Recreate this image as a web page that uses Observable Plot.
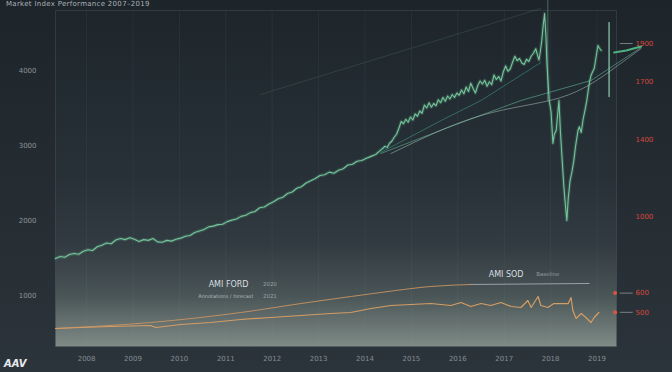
<!DOCTYPE html>
<html><head><meta charset="utf-8">
<script src="https://cdn.jsdelivr.net/npm/d3@7"></script>
<script src="https://cdn.jsdelivr.net/npm/@observablehq/plot@0.6"></script>
<style>
html,body{margin:0;padding:0;}
body{width:672px;height:372px;overflow:hidden;background:linear-gradient(#1d242a,#2c343b);font-family:"DejaVu Sans",sans-serif;}
#wrap{position:relative;width:672px;height:372px;}
#wrap svg{position:absolute;left:0;top:0;}
#title{position:absolute;left:6px;top:0px;font-size:7px;line-height:8px;color:#a9b2b6;letter-spacing:0.3px;white-space:nowrap;}
#brand{position:absolute;left:4px;top:358px;font-size:10px;line-height:12px;font-weight:bold;color:#e8ecee;font-style:italic;}
</style></head>
<body><div id="wrap"><div id="title">Market Index Performance 2007–2019</div><div id="brand">AAV</div></div>
<script>
// ---- data ----
const xTicks = [2008,2009,2010,2011,2012,2013,2014,2015,2016,2017,2018,2019];
const yTicksLeft = [1000,2000,3000,4000];
const yTicksRight = [1900,1700,1400,1000,600,500];

const greenYear = [2007.33,2007.43,2007.53,2007.63,2007.73,2007.83,2007.93,2008.03,2008.13,2008.23,2008.33,2008.43,2008.53,2008.63,2008.73,2008.83,2008.93,2009.03,2009.13,2009.23,2009.33,2009.43,2009.53,2009.63,2009.73,2009.83,2009.93,2010.03,2010.13,2010.23,2010.33,2010.43,2010.53,2010.63,2010.73,2010.83,2010.93,2011.03,2011.13,2011.23,2011.33,2011.43,2011.53,2011.63,2011.73,2011.83,2011.93,2012.03,2012.13,2012.23,2012.33,2012.43,2012.53,2012.63,2012.73,2012.83,2012.93,2013.03,2013.13,2013.23,2013.33,2013.43,2013.53,2013.63,2013.73,2013.83,2013.93,2014.03,2014.13,2014.23,2014.33,
2014.38,2014.43,2014.48,2014.53,2014.58,2014.63,2014.68,2014.73,2014.78,2014.83,2014.88,2014.93,2014.98,2015.03,2015.08,2015.13,2015.18,2015.23,2015.28,2015.33,2015.38,2015.43,2015.48,2015.53,2015.58,2015.63,2015.68,2015.73,2015.78,2015.83,2015.88,2015.93,2015.98,2016.03,2016.08,2016.13,2016.18,2016.23,2016.28,2016.33,2016.38,2016.43,2016.48,2016.53,2016.58,2016.63,2016.68,2016.73,2016.78,2016.83,2016.88,2016.93,2016.98,2017.03,2017.08,2017.13,2017.18,2017.23,2017.28,2017.33,2017.38,2017.43,2017.48,2017.53,2017.58,2017.63,2017.68,2017.72,2017.75,2017.78,2017.81,2017.84,2017.87,
2017.90,2017.92,2017.97,2018.01,2018.05,2018.08,2018.12,2018.15,2018.18,2018.21,2018.25,2018.28,2018.31,2018.35,2018.38,2018.42,2018.46,2018.50,2018.54,2018.59,2018.62,2018.66,2018.70,2018.74,2018.78,2018.81,2018.84,2018.87,2018.91,2018.94,2018.98,2019.02,2019.05,2019.09];
const greenValue = [1493,1520,1510,1547,1560,1550,1590,1610,1600,1650,1670,1700,1690,1740,1760,1745,1770,1750,1720,1745,1735,1760,1715,1710,1735,1725,1750,1765,1790,1800,1840,1860,1880,1915,1925,1945,1950,1985,2005,2020,2055,2070,2105,2120,2170,2180,2220,2250,2290,2310,2360,2380,2430,2450,2500,2530,2560,2600,2610,2645,2630,2670,2690,2740,2750,2790,2800,2830,2855,2880,2935,
2960,2990,2975,3030,3060,3110,3150,3230,3320,3290,3350,3310,3380,3340,3420,3390,3460,3430,3540,3500,3570,3510,3560,3530,3610,3570,3640,3590,3660,3620,3680,3640,3700,3670,3740,3690,3780,3720,3830,3760,3700,3800,3860,3820,3870,3790,3850,3810,3940,3880,3920,3860,3980,4060,3990,4020,4110,4190,4130,4160,4100,4080,4150,4120,4190,4230,4290,4200,4140,4260,4400,4600,4760,
4450,4100,3600,3450,3027,3150,3200,3400,3600,3200,2800,2500,2267,2000,2300,2533,2650,2800,3000,3200,3250,3173,3350,3467,3600,3733,3850,3933,3990,4027,4180,4333,4300,4267];

const spikeA = {year:[2019.26,2019.26], value:[4640,3653]};
const spikeB = {year:[2017.94,2017.94], value:[4933,3600]};
const tailYear = [2019.37,2019.63,2019.95];
const tailValue = [4240,4267,4320];

const trend1Year = [2014.34,2015.64,2016.50,2017.79];
const trend1Value = [2907,3333,3600,4107];
const trend2Year = [2014.34,2015.79,2017.36,2018.87,2019.95];
const trend2Value = [2893,3240,3600,3867,4307];
const trend3Year = [2014.56,2016.50,2018.22,2019.30,2019.95];
const trend3Value = [2893,3400,3640,4000,4293];
const trend4Year = [2011.75,2017.79];
const trend4Value = [3680,4827];

const orangeYear = [2007.33,2007.87,2008.52,2009.38,2009.49,2010.03,2010.67,2011.32,2011.97,2012.62,2013.26,2013.69,2014.13,2014.56,2014.99,2015.42,2015.85,2016.07,2016.28,2016.50,2016.71,2016.93,2017.15,2017.36,2017.51,2017.58,2017.73,2017.79,2017.94,2018.07,2018.22,2018.38,2018.44,2018.48,2018.55,2018.66,2018.76,2018.87,2018.94,2019.04];
const orangeValue = [560,573,587,600,573,613,640,680,707,733,760,773,827,867,880,893,867,907,853,893,867,907,853,840,933,840,987,867,840,893,893,893,973,800,693,760,707,640,707,773];

const smoothYear = [2007.33,2009.38,2011.32,2012.62,2014.34,2015.42,2016.28];
const smoothValue = [560,640,773,893,1040,1120,1147];
const baseYear = [2016.28,2018.83];
const baseValue = [1147,1160];

const notes = [
  {year:2011.06, value:1147, text:"AMI FORD", size:8, color:"#d9dfe0", weight:"normal"},
  {year:2011.95, value:1147, text:"2020", size:5.5, color:"#98a3a6", weight:"normal"},
  {year:2011.00, value:987, text:"Annotations / forecast", size:5, color:"#b3bbbd", weight:"normal"},
  {year:2011.95, value:987, text:"2021", size:5.5, color:"#98a3a6", weight:"normal"},
  {year:2017.04, value:1280, text:"AMI SOD", size:8, color:"#d9dfe0", weight:"normal"},
  {year:2017.94, value:1280, text:"Baseline", size:5.5, color:"#8f9a9e", weight:"normal"}
];

const endDots = [600,500];

// ---- build ----
const toRows = (xs, ys) => xs.map((x,i)=>({year:x, value:ys[i]}));
const green = toRows(greenYear, greenValue);
const W=672, H=372, ML=55, MR=56, MT=10, MB=26;
const xDomain=[2007.33,2019.42];

const main = Plot.plot({
  width:W, height:H, marginLeft:ML, marginRight:MR, marginTop:MT, marginBottom:MB,
  style:{background:"transparent", color:"#8e989d", fontSize:"7px", fontFamily:"DejaVu Sans, sans-serif"},
  x:{domain:xDomain},
  y:{domain:[320,4800]},
  marks:[
    Plot.frame({fill:"url(#plotbg)", stroke:"#56616a", strokeOpacity:0.35}),
    Plot.gridX(xTicks, {stroke:"#9fb5b2", strokeOpacity:0.07}),
    Plot.axisX(xTicks, {tickSize:0, tickPadding:10, tickFormat:d=>String(d), fill:"#828d93", label:null}),
    Plot.axisY(yTicksLeft, {tickSize:0, tickPadding:19, tickFormat:d=>String(d), fill:"#8a949a", label:null}),
    Plot.line(toRows(trend4Year,trend4Value), {x:"year", y:"value", stroke:"#6f9e8c", strokeOpacity:0.25, strokeWidth:0.8}),
    Plot.line(toRows(trend1Year,trend1Value), {x:"year", y:"value", stroke:"#3f9c8c", strokeOpacity:0.7, strokeWidth:0.8}),
    Plot.line(toRows(trend2Year,trend2Value), {x:"year", y:"value", stroke:"#5fae90", strokeOpacity:0.7, strokeWidth:0.9}),
    Plot.line(toRows(trend3Year,trend3Value), {x:"year", y:"value", stroke:"#b8cfc6", strokeOpacity:0.55, strokeWidth:0.9, curve:"natural"}),
    Plot.line(toRows(smoothYear,smoothValue), {x:"year", y:"value", stroke:"#c99462", strokeWidth:0.9, curve:"natural"}),
    Plot.line(toRows(baseYear,baseValue), {x:"year", y:"value", stroke:"#a3acae", strokeWidth:0.9}),
    Plot.line(toRows(orangeYear,orangeValue), {x:"year", y:"value", stroke:"#d49d64", strokeWidth:1.2}),
    Plot.line(green, {x:"year", y:"value", stroke:"#6fc197", strokeOpacity:0.2, strokeWidth:3.5}),
    Plot.line(green, {x:"year", y:"value", stroke:"#74c59b", strokeWidth:1.1}),
    Plot.line(toRows(spikeA.year,spikeA.value), {x:"year", y:"value", stroke:"#8fcfae", strokeWidth:1.2}),
    Plot.line(toRows(spikeB.year,spikeB.value), {x:"year", y:"value", stroke:"#8fcfae", strokeOpacity:0.5, strokeWidth:0.8}),
    Plot.line(toRows(tailYear,tailValue), {x:"year", y:"value", stroke:"#4fb07f", strokeWidth:2}),
    Plot.text(notes, {x:"year", y:"value", text:"text", fontSize:d=>d.size, fill:d=>d.color, fontWeight:d=>d.weight})
  ]
});
const defs = d3.select(main).insert("defs", ":first-child");
const g = defs.append("linearGradient").attr("id","plotbg").attr("x1",0).attr("y1",0).attr("x2",0).attr("y2",1);
[[0,"#1e262c"],[0.5,"#273137"],[0.7,"#313b41"],[0.85,"#4a5557"],[1,"#7f8b86"]].forEach(([o,c])=>g.append("stop").attr("offset",o).attr("stop-color",c));

const right = Plot.plot({
  width:W, height:H, marginLeft:ML, marginRight:MR, marginTop:MT, marginBottom:MB,
  style:{background:"transparent", fontSize:"7px", fontFamily:"DejaVu Sans, sans-serif"},
  x:{domain:xDomain, axis:null},
  y:{domain:[322,2072], axis:null},
  marks:[
    Plot.axisY(yTicksRight, {anchor:"right", tickSize:0, tickPadding:19, tickFormat:d=>String(d), fill:"#d8473a", label:null}),
    Plot.link([1900], {x1:2019.49, x2:2019.77, y1:d=>d, y2:d=>d, stroke:"#9aa4a6", strokeWidth:0.7}),
    Plot.link(endDots, {x1:2019.49, x2:2019.77, y1:d=>d, y2:d=>d, stroke:"#9aa4a6", strokeWidth:0.7}),
    Plot.dot(endDots, {x:2019.39, y:d=>d, r:2, fill:"#e0533f"})
  ]
});
const wrap = document.getElementById("wrap");
wrap.insertBefore(right, wrap.firstChild);
wrap.insertBefore(main, wrap.firstChild);
</script>
</body></html>
